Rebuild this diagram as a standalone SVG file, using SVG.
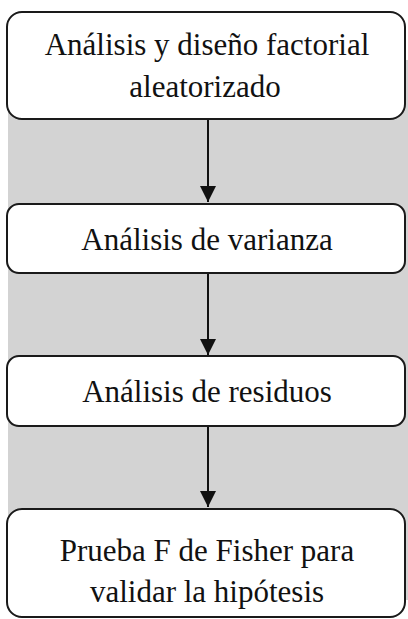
<svg xmlns="http://www.w3.org/2000/svg" width="408" height="619" viewBox="0 0 408 619">
<style>
.box{fill:#ffffff;stroke:#1a1a1a;stroke-width:2}
.lbl{font-family:"Liberation Serif","Times New Roman",serif;font-size:31px;fill:#111111;text-anchor:middle}
.conn{stroke:#111111;stroke-width:2;fill:none}
</style>
<defs>
<marker id="ah" markerUnits="userSpaceOnUse" markerWidth="18" markerHeight="18" refX="16" refY="8" orient="auto">
<path d="M0,0 L16,8 L0,16 Z" fill="#111111"/>
</marker>
</defs>
<rect x="8" y="60" width="400" height="540" fill="#d3d3d3"/>
<g id="connectors">
<line class="conn" x1="208" y1="120" x2="208" y2="202" marker-end="url(#ah)"/>
<line class="conn" x1="208" y1="274" x2="208" y2="355" marker-end="url(#ah)"/>
<line class="conn" x1="208" y1="427" x2="208" y2="507" marker-end="url(#ah)"/>
</g>
<g id="node1">
<rect class="box" x="7" y="12" width="398" height="107" rx="15"/>
<text class="lbl" x="207" y="55">Análisis y diseño factorial</text>
<text class="lbl" x="205" y="97">aleatorizado</text>
</g>
<g id="node2">
<rect class="box" x="7" y="204" width="398" height="69" rx="12"/>
<text class="lbl" x="207" y="250">Análisis de varianza</text>
</g>
<g id="node3">
<rect class="box" x="7" y="356" width="398" height="70" rx="12"/>
<text class="lbl" x="207" y="402">Análisis de residuos</text>
</g>
<g id="node4">
<rect class="box" x="7" y="509" width="398" height="108" rx="15"/>
<text class="lbl" x="207" y="561">Prueba F de Fisher para</text>
<text class="lbl" x="207" y="602">validar la hipótesis</text>
</g>
</svg>
